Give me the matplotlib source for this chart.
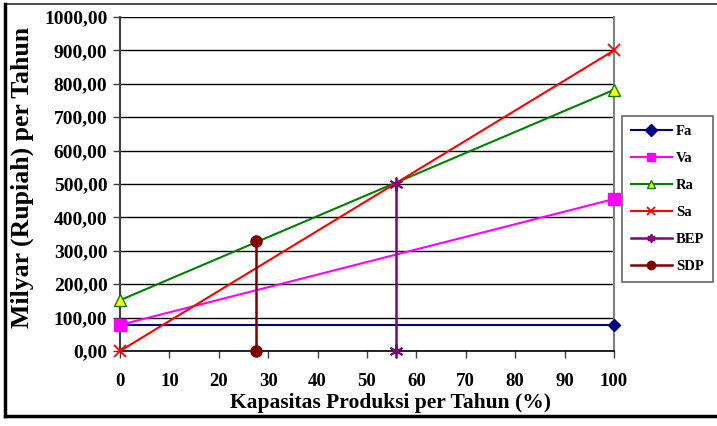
import matplotlib
matplotlib.use("Agg")
import matplotlib.pyplot as plt
from matplotlib.lines import Line2D

plt.rcParams['font.family'] = ['Liberation Serif', 'DejaVu Serif']
plt.rcParams['font.weight'] = 'bold'

# Data
x_line = [0, 100]
fa = [77, 77]
va = [78, 455]
ra = [152, 782]
sa = [0, 900]
bep_x = [55.8, 55.8]
bep_y = [0, 500]
sdp_x = [27.5, 27.5]
sdp_y = [0, 328]
xticks = [0, 10, 20, 30, 40, 50, 60, 70, 80, 90, 100]
yticks = [0, 100, 200, 300, 400, 500, 600, 700, 800, 900, 1000]
ytick_labels = ["0,00", "100,00", "200,00", "300,00", "400,00", "500,00",
                "600,00", "700,00", "800,00", "900,00", "1000,00"]

fig = plt.figure(figsize=(7.17, 4.26), dpi=100)
ax = fig.add_axes([120/717, 1-351/426, (614-120)/717, (351-17)/426])

ax.plot(x_line, fa, color='#000080', marker='D', markersize=6, lw=1.5, label='Fa', clip_on=False, zorder=5)
ax.plot(x_line, va, color='#FF00FF', marker='s', markersize=9, lw=1.5, label='Va', clip_on=False, zorder=5)
ax.plot(x_line, ra, color='#008000', marker='^', markersize=8, markerfacecolor='#FFFF00',
        markeredgecolor='#008000', lw=1.5, label='Ra', clip_on=False, zorder=5)
ax.plot(x_line, sa, color='#FF0000', marker='x', markersize=8, mew=1.3, lw=1.5, label='Sa', clip_on=False, zorder=5)
ax.plot(bep_x, bep_y, color='#800080', marker=(6, 2, 0), markersize=10, mew=1.3, lw=1.8, label='BEP', clip_on=False, zorder=5)
ax.plot(sdp_x, sdp_y, color='#800000', marker='o', markersize=8, lw=1.8, label='SDP', clip_on=False, zorder=5)

ax.set_xlim(0, 100)
ax.set_ylim(0, 1000)
ax.set_xticks(xticks)
ax.set_xticklabels([str(t) for t in xticks], fontsize=13.5, fontweight='bold')
ax.set_yticks(yticks)
ax.set_yticklabels(ytick_labels, fontsize=14, fontweight='bold')
ax.tick_params(axis='both', direction='out', length=5, width=1, color='#404040', pad=4)
ax.tick_params(axis='x', pad=11)
ax.grid(axis='y', color='black', lw=1)
ax.set_axisbelow(True)
ax.spines['top'].set_visible(False)
ax.spines['right'].set_color('#808080')
ax.spines['right'].set_linewidth(1.5)
ax.spines['left'].set_color('#404040')
ax.spines['left'].set_linewidth(1.5)
ax.spines['bottom'].set_color('black')
ax.spines['bottom'].set_linewidth(1.2)

fig.text(391/717, 1-403/426, 'Kapasitas Produksi per Tahun (%)', fontsize=15.5, fontweight='bold',
         ha='center', va='center')
ax.set_ylabel('Milyar (Rupiah) per Tahun', fontsize=18.5, fontweight='bold')
ax.yaxis.set_label_coords(-(120-34)/494, (351-177)/334)

leg = ax.legend(loc='upper left', bbox_to_anchor=(622/717, 1-116/426), bbox_transform=fig.transFigure,
                borderaxespad=0, frameon=True, fancybox=False, edgecolor='#404040',
                prop={'weight': 'bold', 'size': 10.5}, handlelength=2.8, labelspacing=0.95,
                borderpad=0.6, handletextpad=0.3)
leg.get_frame().set_linewidth(1.2)
for h in leg.legend_handles:
    h.set_markersize(6)

# Outer frame
fig.add_artist(Line2D([5/717, 717/717], [1-4/426, 1-4/426], transform=fig.transFigure, color='#303030', lw=1.2))
fig.add_artist(Line2D([5/717, 5/717], [1-4/426, 1-416/426], transform=fig.transFigure, color='black', lw=2.5))
fig.add_artist(Line2D([5/717, 717/717], [1-416/426, 1-416/426], transform=fig.transFigure, color='black', lw=2.5))

fig.savefig('out.png', dpi=100)
